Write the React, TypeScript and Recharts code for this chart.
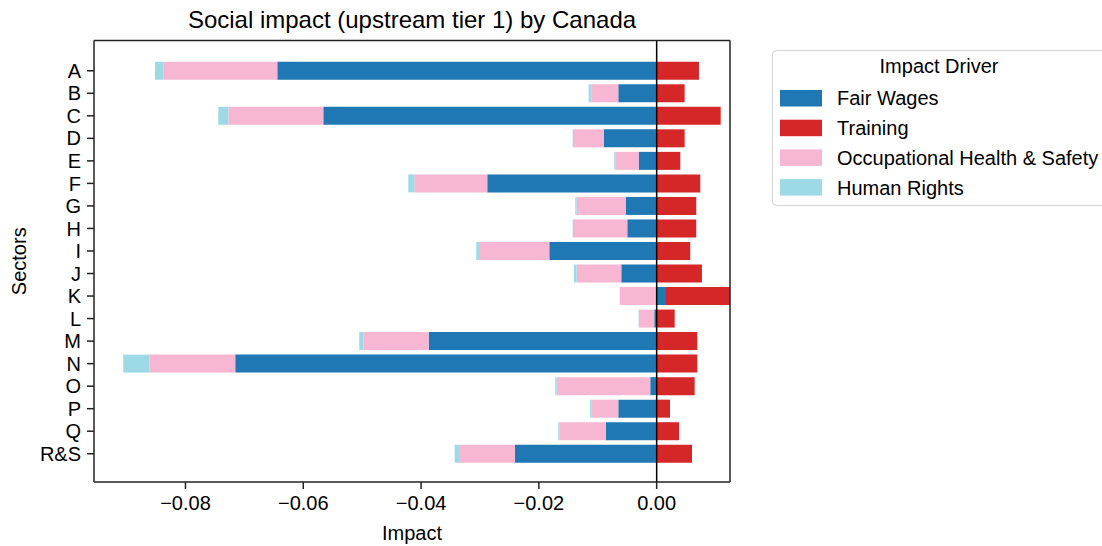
import React from 'react';
import { BarChart, Bar, XAxis, YAxis, ReferenceLine, Label } from 'recharts';

const sectors = ['A', 'B', 'C', 'D', 'E', 'F', 'G', 'H', 'I', 'J', 'K', 'L', 'M', 'N', 'O', 'P', 'Q', 'R&S'];

const fairWages = [
  -0.06441, -0.00652, -0.0566, -0.00895, -0.00306, -0.02876, -0.00526, -0.00499, -0.01823,
  -0.00601, 0.00158, -0.00041, -0.03871, -0.07155, -0.00109, -0.00652, -0.00866, -0.02406,
];
const training = [
  0.00718, 0.00475, 0.01087, 0.00475, 0.00401, 0.0074, 0.00672, 0.00672, 0.0057,
  0.00769, 0.01087, 0.00306, 0.00689, 0.00689, 0.00645, 0.00226, 0.00379, 0.006,
];
const healthSafety = [
  -0.01936, -0.00452, -0.01613, -0.00509, -0.00397, -0.01239, -0.00832, -0.00905, -0.01194,
  -0.00757, -0.00623, -0.0026, -0.01104, -0.0146, -0.01589, -0.00458, -0.00788, -0.00951,
];
const humanRights = [
  -0.00141, -0.00051, -0.0017, -0.00022, -0.00017, -0.00102, -0.00024, -0.00022, -0.00046,
  -0.00046, -0.00005, -0.00005, -0.00075, -0.00441, -0.00024, -0.00022, -0.00017, -0.00073,
];

const xTicks = [-0.08, -0.06, -0.04, -0.02, 0];
const X_MIN = -0.09553;
const X_MAX = 0.01245;

const series = [
  { key: 'fairWages', name: 'Fair Wages', color: '#1f77b4' },
  { key: 'training', name: 'Training', color: '#d62728' },
  { key: 'healthSafety', name: 'Occupational Health & Safety', color: '#f7b6d2' },
  { key: 'humanRights', name: 'Human Rights', color: '#9edae5' },
];

const data = sectors.map((sector, i) => ({
  sector,
  fairWages: fairWages[i],
  training: training[i],
  healthSafety: healthSafety[i],
  humanRights: humanRights[i],
}));

const FONT = '"Liberation Sans", Arial, sans-serif';
const tickStyle = { fontSize: 20, fill: '#000', fontFamily: FONT };
const SPINE = '#222';

const fmt = (v: number) => {
  const s = Math.abs(v).toFixed(2);
  return v < -1e-9 ? `\u2212${s}` : s;
};

export default function App() {
  return (
    <div
      style={{
        position: 'absolute',
        left: 0,
        top: 0,
        width: 1102,
        height: 546,
        overflow: 'hidden',
        background: '#fff',
        fontFamily: FONT,
      }}
    >
      <BarChart
        width={1102}
        height={546}
        data={data}
        layout="vertical"
        stackOffset="sign"
        barCategoryGap="10%"
        margin={{ top: 39.5, right: 371, bottom: 0, left: 0 }}
      >
        <XAxis
          type="number"
          domain={[X_MIN, X_MAX]}
          allowDataOverflow
          ticks={xTicks}
          tickFormatter={fmt}
          height={64}
          tickSize={7}
          tickMargin={7}
          tick={tickStyle}
          stroke={SPINE}
          strokeWidth={1.5}
        >
          <Label
            value="Impact"
            position="insideBottom"
            offset={6}
            style={{ fontSize: 20, fill: '#000', fontFamily: FONT }}
          />
        </XAxis>
        {/* top spine */}
        <XAxis
          xAxisId="top"
          orientation="top"
          type="number"
          domain={[X_MIN, X_MAX]}
          allowDataOverflow
          height={1}
          tick={false}
          tickLine={false}
          stroke={SPINE}
          strokeWidth={1.5}
        />
        <YAxis
          type="category"
          dataKey="sector"
          width={94}
          padding={{ top: 19, bottom: 17 }}
          tickSize={7}
          tickMargin={6}
          tick={tickStyle}
          interval={0}
          stroke={SPINE}
          strokeWidth={1.5}
        >
          <Label
            value="Sectors"
            angle={-90}
            position="insideLeft"
            offset={19}
            style={{ fontSize: 20, fill: '#000', fontFamily: FONT, textAnchor: 'middle' }}
          />
        </YAxis>
        {/* right spine */}
        <YAxis
          yAxisId="right"
          orientation="right"
          type="category"
          dataKey="sector"
          width={1}
          tick={false}
          tickLine={false}
          stroke={SPINE}
          strokeWidth={1.5}
        />
        {series.map((s) => (
          <Bar
            key={s.key}
            dataKey={s.key}
            name={s.name}
            stackId="a"
            fill={s.color}
            isAnimationActive={false}
          />
        ))}
        <ReferenceLine x={0} stroke="#000" strokeWidth={1.5} />
      </BarChart>

      <svg
        width={1102}
        height={546}
        style={{ position: 'absolute', left: 0, top: 0, pointerEvents: 'none' }}
        fontFamily={FONT}
      >
        <text x={412} y={28.3} textAnchor="middle" fontSize={24} fill="#000">
          Social impact (upstream tier 1) by Canada
        </text>
        <rect x={772.5} y={50.5} width={334} height={155} rx={4} fill="#fff" stroke="#d4d4d4" />
        <text x={939} y={73.3} textAnchor="middle" fontSize={20} fill="#000">
          Impact Driver
        </text>
        {series.map((s, i) => (
          <g key={s.key}>
            <rect x={780} y={90 + i * 29.7} width={42} height={16.5} fill={s.color} />
            <text x={837} y={105 + i * 29.9} fontSize={20} fill="#000">
              {s.name}
            </text>
          </g>
        ))}
      </svg>
    </div>
  );
}
